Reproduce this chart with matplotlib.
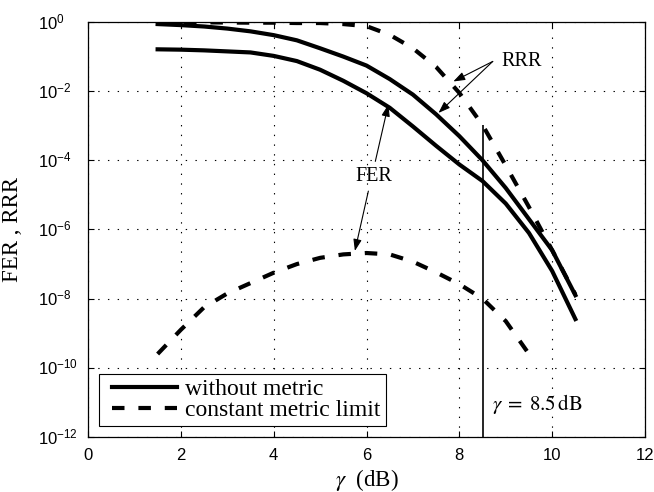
import numpy as np
import matplotlib
matplotlib.use("Agg")
import matplotlib.pyplot as plt
from matplotlib.ticker import FixedLocator, FuncFormatter, NullLocator, NullFormatter

# ---- data (values given as powers of ten) ----
gamma_db = [1.5, 2.0, 2.5, 3.0, 3.5, 4.0, 4.5, 5.0, 5.5, 6.0,
            6.5, 7.0, 7.5, 8.0, 8.5, 9.0, 9.5, 10.0, 10.5]
rrr_without_exp = [-0.06, -0.09, -0.13, -0.19, -0.27, -0.38, -0.53, -0.76, -1.00, -1.26,
                   -1.65, -2.10, -2.67, -3.30, -4.00, -4.80, -5.70, -6.60, -7.90]
fer_without_exp = [-0.79, -0.80, -0.82, -0.85, -0.88, -0.98, -1.13, -1.38, -1.70, -2.06,
                   -2.48, -3.02, -3.58, -4.12, -4.60, -5.25, -6.10, -7.20, -8.59]
rrr_limit_exp = [-0.01, -0.01, -0.01, -0.015, -0.02, -0.02, -0.03, -0.03, -0.06, -0.12,
                 -0.37, -0.76, -1.30, -2.05, -2.98, -4.15, -5.35, -6.60, -7.88]

gamma_db_fer_limit = [1.5, 2.0, 2.5, 3.0, 3.5, 4.0, 4.5, 5.0, 5.5, 6.0,
                      6.5, 7.0, 7.5, 8.0, 8.5, 9.0, 9.5]
fer_limit_exp = [-9.60, -8.90, -8.25, -7.85, -7.55, -7.25, -7.00, -6.82, -6.72, -6.68,
                 -6.72, -6.93, -7.24, -7.58, -8.00, -8.65, -9.60]

gamma_operating = 8.5

x_ticks = [0, 2, 4, 6, 8, 10, 12]
y_tick_exps = [0, -2, -4, -6, -8, -10, -12]
legend_labels = ["without metric", "constant metric limit"]

# ---- style ----
SERIF = ["Liberation Serif", "DejaVu Serif"]
SANS = ["Liberation Sans", "DejaVu Sans"]
plt.rcParams["font.family"] = SANS
plt.rcParams["mathtext.fontset"] = "stix"
plt.rcParams["lines.scale_dashes"] = False
DASH = (0, (9, 10))
LW = 3.0

fig = plt.figure(figsize=(6.54, 4.92), dpi=100)
ax = fig.add_axes([88 / 654, 1 - 437 / 492, 557 / 654, 415 / 492])

x = np.array(gamma_db)
xf = np.array(gamma_db_fer_limit)
rrr_without = 10.0 ** np.array(rrr_without_exp)
fer_without = 10.0 ** np.array(fer_without_exp)
rrr_limit = 10.0 ** np.array(rrr_limit_exp)
fer_limit = 10.0 ** np.array(fer_limit_exp)

h_solid, = ax.plot(x, rrr_without, color="k", lw=LW, solid_joinstyle="round")
ax.plot(x, fer_without, color="k", lw=LW, solid_joinstyle="round")
h_dash, = ax.plot(x, rrr_limit, color="k", lw=LW, linestyle=DASH)
ax.plot(xf, fer_limit, color="k", lw=LW, linestyle=DASH)

# operating point marker line
rrr_at_op = 10.0 ** np.interp(gamma_operating, x, rrr_limit_exp)
ax.vlines(gamma_operating, 1e-12, rrr_at_op, color="k", lw=1.2)
ax.text(8.7, 10 ** -11.04, r"$\gamma\;=\;8.5\,\mathrm{dB}$", fontsize=15,
        ha="left", va="center")

ax.set_yscale("log")
ax.set_xlim(0, 12)
ax.set_ylim(1e-12, 1)
ax.xaxis.set_major_locator(FixedLocator(x_ticks))
ax.yaxis.set_major_locator(FixedLocator([10.0 ** e for e in y_tick_exps]))
ax.yaxis.set_minor_locator(NullLocator())
ax.yaxis.set_major_formatter(NullFormatter())
ax.xaxis.set_major_formatter(FuncFormatter(lambda v, p: "%d" % v))

# decade labels, left-aligned on the "10"
ytrans = ax.get_yaxis_transform()
for e in y_tick_exps:
    ax.text(-0.0898, 10.0 ** e, r"$\mathregular{10^{%d}}$" % e, transform=ytrans,
            ha="left", va="center", fontsize=12, clip_on=False)

ax.tick_params(which="both", direction="in", top=True, right=True,
               length=4, width=0.8, labelsize=12)
ax.tick_params(axis="x", pad=8)

ax.grid(True, color="k", linestyle=(0, (1, 6)), lw=0.8)
for s in ax.spines.values():
    s.set_linewidth(0.9)
    s.set_color("k")

ax.set_xlabel(r"$\gamma$  (dB)", family=SERIF, fontsize=16.5)
ax.xaxis.set_label_coords(0.5, -0.072)
ax.set_ylabel("FER , RRR", family=SERIF, fontsize=16.5)
ax.yaxis.set_label_coords(-0.1167, 0.5)

# annotations
arrow_kw = dict(arrowstyle="-|>,head_length=0.7,head_width=0.25", color="k",
                lw=0.8, mutation_scale=10, shrinkA=0, shrinkB=0)
ax.text(9.35, 10 ** -1.14, "RRR", family=SERIF, fontsize=14.5, ha="center", va="center")
ax.annotate("", xy=(7.87, 10 ** -1.72), xytext=(8.72, 10 ** -1.14), arrowprops=arrow_kw)
ax.annotate("", xy=(7.55, 10 ** -2.63), xytext=(8.72, 10 ** -1.14), arrowprops=arrow_kw)

ax.text(6.15, 10 ** -4.46, "FER", family=SERIF, fontsize=14.5, ha="center", va="center")
ax.annotate("", xy=(6.47, 10 ** -2.39), xytext=(6.19, 10 ** -4.03), arrowprops=arrow_kw)
ax.annotate("", xy=(5.75, 10 ** -6.62), xytext=(6.04, 10 ** -4.89), arrowprops=arrow_kw)

leg = ax.legend([h_solid, h_dash], legend_labels, loc="lower left",
                bbox_to_anchor=(11 / 557, 11 / 415), borderaxespad=0,
                prop=dict(family=SERIF, size=17), frameon=True, fancybox=False,
                edgecolor="k", framealpha=1, handlelength=3.09, handletextpad=0.34,
                labelspacing=-0.05, borderpad=0.22)
leg.get_frame().set_linewidth(0.8)
# leave a wider left margin inside the frame before each legend line
for handle in leg.legend_handles:
    xd = np.asarray(handle.get_xdata(), dtype=float)
    handle.set_xdata(np.linspace(xd[0] + 5.8, xd[-1], len(xd)))

fig.savefig("out.png", dpi=100)
